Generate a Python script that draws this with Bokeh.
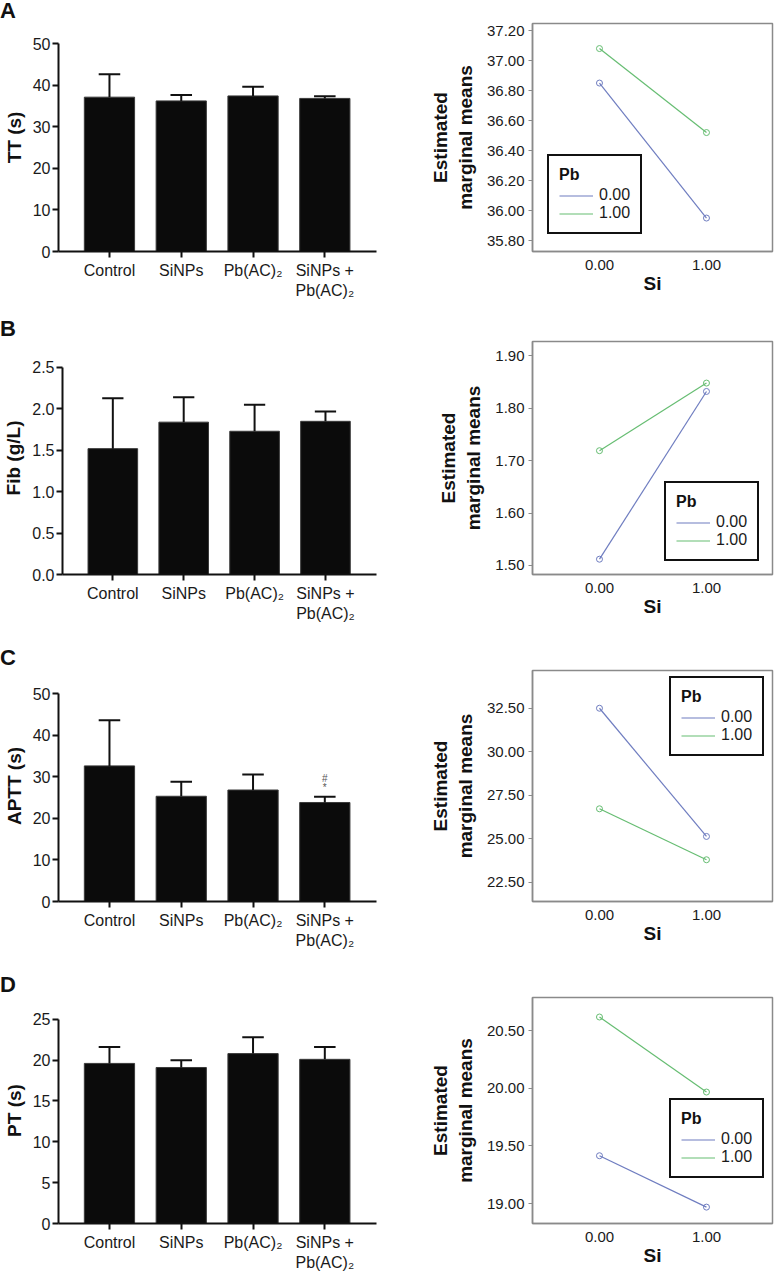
from bokeh.plotting import figure
from bokeh.layouts import column, row
from bokeh.models import (Legend, LegendItem, FixedTicker, Div,
                          NumeralTickFormatter, Range1d)
from bokeh.embed import file_html
from bokeh.resources import INLINE

# ---------------- data ----------------
groups = ["Control", "SiNPs", "Pb(AC)\u2082", "SiNPs +\nPb(AC)\u2082"]
group_pos = [1, 2, 3, 4]

tt_mean = [37.1, 36.2, 37.4, 36.8]
tt_upper = [42.6, 37.6, 39.6, 37.3]
fib_mean = [1.52, 1.84, 1.73, 1.85]
fib_upper = [2.13, 2.14, 2.05, 1.97]
aptt_mean = [32.6, 25.3, 26.8, 23.8]
aptt_upper = [43.6, 28.8, 30.5, 25.2]
pt_mean = [19.6, 19.1, 20.8, 20.1]
pt_upper = [21.6, 20.0, 22.8, 21.6]

aptt_marks = ["*", "#"]          # significance marks above SiNPs + Pb(AC)2 bar
aptt_mark_group = 4

tt_ticks = [0, 10, 20, 30, 40, 50]
fib_ticks = [0, 0.5, 1.0, 1.5, 2.0, 2.5]
aptt_ticks = [0, 10, 20, 30, 40, 50]
pt_ticks = [0, 5, 10, 15, 20, 25]

si_levels = [0.0, 1.0]
pb_levels = ["0.00", "1.00"]
tt_emm_pb0 = [36.85, 35.95]
tt_emm_pb1 = [37.08, 36.52]
fib_emm_pb0 = [1.512, 1.832]
fib_emm_pb1 = [1.719, 1.848]
aptt_emm_pb0 = [32.50, 25.13]
aptt_emm_pb1 = [26.72, 23.79]
pt_emm_pb0 = [19.415, 18.97]
pt_emm_pb1 = [20.617, 19.967]

tt_emm_ticks = [35.8, 36.0, 36.2, 36.4, 36.6, 36.8, 37.0, 37.2]
fib_emm_ticks = [1.5, 1.6, 1.7, 1.8, 1.9]
aptt_emm_ticks = [22.5, 25.0, 27.5, 30.0, 32.5]
pt_emm_ticks = [19.0, 19.5, 20.0, 20.5]

# ---------------- style ----------------
FONT = "Liberation Sans"
BLUE = "#6f7dc0"
GREEN = "#66bd72"
LEFT_W = 388
RIGHT_W = 386


def letter_div(letter):
    return Div(text=letter, width=40, height=22, margin=0,
               styles={"font-family": FONT, "font-size": "22px", "font-weight": "bold",
                       "line-height": "22px", "color": "#111111"})


def bar_fig(ylabel, mean, upper, ticks, fmt, y_end, h, top, bottom):
    p = figure(width=LEFT_W, height=h, output_backend="svg", toolbar_location=None,
               x_range=Range1d(0.29, 4.72), y_range=Range1d(0, y_end),
               min_border_left=50, min_border_right=12,
               min_border_top=top, min_border_bottom=bottom)
    p.outline_line_color = None
    p.grid.visible = False
    p.vbar(x=group_pos, top=mean, bottom=0, width=0.7,
           fill_color="#0b0b0b", line_color="#3a3a3a", line_width=1)
    p.segment(x0=group_pos, y0=mean, x1=group_pos, y1=upper,
              line_color="#111111", line_width=2)
    p.segment(x0=[g - 0.15 for g in group_pos], y0=upper,
              x1=[g + 0.15 for g in group_pos], y1=upper,
              line_color="#111111", line_width=2)
    for ax in (p.xaxis[0], p.yaxis[0]):
        ax.axis_line_color = "#111111"
        ax.axis_line_width = 2
        ax.major_tick_line_color = "#111111"
        ax.major_tick_line_width = 2
        ax.major_tick_out = 6
        ax.major_tick_in = 0
        ax.minor_tick_line_color = None
        ax.major_label_text_font = FONT
        ax.major_label_text_font_size = "16px"
        ax.major_label_text_color = "#1a1a1a"
    p.xaxis.major_label_standoff = 4
    p.yaxis.major_label_standoff = 2
    p.xaxis.ticker = FixedTicker(ticks=group_pos)
    p.xaxis.major_label_overrides = {g: lab for g, lab in zip(group_pos, groups)}
    p.yaxis.ticker = FixedTicker(ticks=ticks)
    p.yaxis.bounds = (ticks[0], ticks[-1])
    p.yaxis.formatter = NumeralTickFormatter(format=fmt)
    p.yaxis.axis_label = ylabel
    p.yaxis.axis_label_text_font = FONT
    p.yaxis.axis_label_text_font_style = "bold"
    p.yaxis.axis_label_text_font_size = "19px"
    p.yaxis.axis_label_text_color = "#111111"
    p.yaxis.axis_label_standoff = 5
    return p


def emm_fig(pb0, pb1, ticks, yr, h, top, bottom, leg_loc):
    p = figure(width=RIGHT_W, height=h, output_backend="svg", toolbar_location=None,
               x_range=Range1d(-0.626, 1.617), y_range=Range1d(*yr),
               min_border_left=144, min_border_right=2,
               min_border_top=top, min_border_bottom=bottom)
    p.grid.visible = False
    p.outline_line_color = "#8a8a8a"
    p.outline_line_width = 1.5
    r0 = p.line(si_levels, pb0, line_color=BLUE, line_width=1.2)
    p.scatter(si_levels, pb0, marker="circle", size=6, fill_color=None, line_color=BLUE, line_width=1)
    r1 = p.line(si_levels, pb1, line_color=GREEN, line_width=1.2)
    p.scatter(si_levels, pb1, marker="circle", size=6, fill_color=None, line_color=GREEN, line_width=1)
    for ax in (p.xaxis[0], p.yaxis[0]):
        ax.axis_line_color = "#8a8a8a"
        ax.axis_line_width = 1.5
        ax.major_tick_line_color = "#8a8a8a"
        ax.minor_tick_line_color = None
        ax.major_tick_in = 0
        ax.major_label_text_font = FONT
        ax.major_label_text_font_size = "15px"
        ax.major_label_text_color = "#1a1a1a"
        ax.axis_label_text_font = FONT
        ax.axis_label_text_font_style = "bold"
        ax.axis_label_text_font_size = "19px"
        ax.axis_label_text_color = "#111111"
        ax.formatter = NumeralTickFormatter(format="0.00")
    p.yaxis.ticker = FixedTicker(ticks=ticks)
    p.yaxis.major_tick_out = 4
    p.yaxis.major_label_standoff = 4
    p.yaxis.axis_label = "Estimated\nmarginal means"
    p.yaxis.axis_label_standoff = 8
    p.xaxis.ticker = FixedTicker(ticks=si_levels)
    p.xaxis.major_tick_out = 0
    p.xaxis.major_label_standoff = 8
    p.xaxis.axis_label = "Si"
    p.xaxis.axis_label_standoff = 0
    leg = Legend(items=[LegendItem(label=pb_levels[0], renderers=[r0]),
                        LegendItem(label=pb_levels[1], renderers=[r1])],
                 title="Pb", location=leg_loc)
    leg.border_line_color = "#111111"
    leg.border_line_alpha = 1
    leg.border_line_width = 2
    leg.background_fill_color = "white"
    leg.background_fill_alpha = 1
    leg.padding = 10
    leg.margin = 0
    leg.spacing = 0
    leg.glyph_width = 34
    leg.glyph_height = 17
    leg.label_height = 17
    leg.label_standoff = 6
    leg.label_text_font = FONT
    leg.label_text_font_size = "16px"
    leg.label_text_color = "#1a1a1a"
    leg.title_text_font = FONT
    leg.title_text_font_style = "bold"
    leg.title_text_font_size = "16px"
    leg.title_text_color = "#111111"
    leg.title_standoff = 2
    p.add_layout(leg)
    return p


pA = bar_fig("TT (s)", tt_mean, tt_upper, tt_ticks, "0", 54.81, 296, 1, 67)
qA = emm_fig(tt_emm_pb0, tt_emm_pb1, tt_emm_ticks, (35.727, 37.247), 296, 1, 67, (15, 17))

pB = bar_fig("Fib (g/L)", fib_mean, fib_upper, fib_ticks, "0.0", 2.814, 307, 1, 73)
qB = emm_fig(fib_emm_pb0, fib_emm_pb1, fib_emm_ticks, (1.4828, 1.9273), 307, 1, 73, (132, 13))

pC = bar_fig("APTT (s)", aptt_mean, aptt_upper, aptt_ticks, "0", 55.53, 305, 1, 73)
mark_y = [aptt_upper[aptt_mark_group - 1] + 2.3, aptt_upper[aptt_mark_group - 1] + 4.4]
pC.text(x=[aptt_mark_group] * len(aptt_marks), y=mark_y, text=aptt_marks,
        text_font_size="10px", text_align="center", text_baseline="middle",
        text_color="#555555")
qC = emm_fig(aptt_emm_pb0, aptt_emm_pb1, aptt_emm_ticks, (21.39, 34.67), 305, 1, 73, (137, 145))

pD = bar_fig("PT (s)", pt_mean, pt_upper, pt_ticks, "0", 27.67, 277, 1, 48)
qD = emm_fig(pt_emm_pb0, pt_emm_pb1, pt_emm_ticks, (18.828, 20.786), 277, 1, 48, (137, 45))

layout = column(letter_div("A"), row(pA, qA, spacing=0),
                letter_div("B"), row(pB, qB, spacing=0),
                letter_div("C"), row(pC, qC, spacing=0),
                letter_div("D"), row(pD, qD, spacing=0), spacing=0)

open("out.html", "w").write(file_html(layout, INLINE))
